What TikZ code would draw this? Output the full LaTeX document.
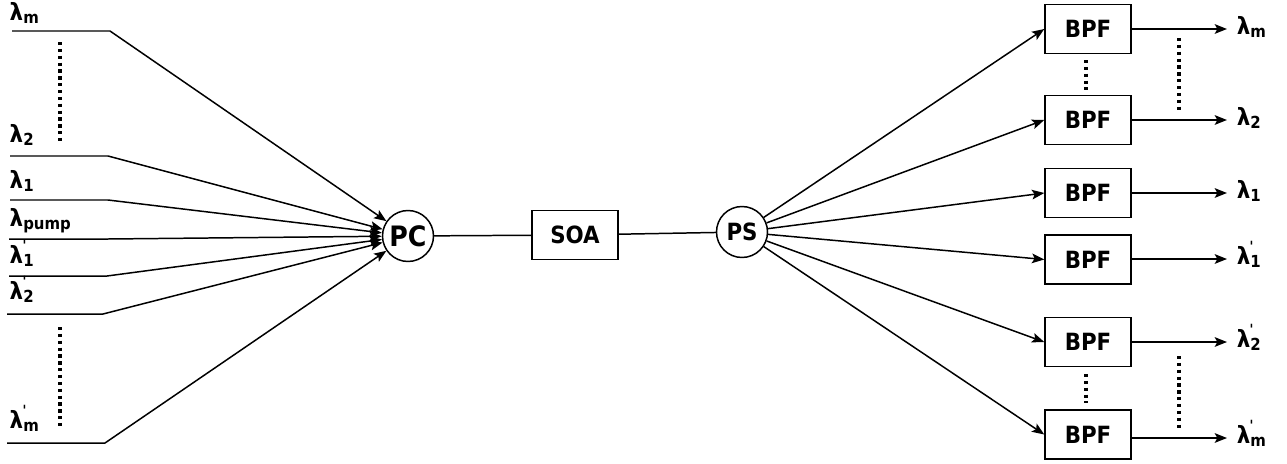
\documentclass[tikz,border=0pt]{standalone}
\usepackage{fontspec}
\setmainfont{DejaVu Sans Condensed}
\usetikzlibrary{arrows.meta}
% wavelength labels: plain, and primed (idler) channels
\newcommand\lsub[1]{λ\textsubscript{#1}}
\newcommand\lpr[1]{λ\rlap{\raisebox{1.0ex}{\fontsize{8}{9}\selectfont\kern-0.4pt\textquotesingle}}\textsubscript{#1}}
\begin{document}
\begin{tikzpicture}[x=0.02cm, y=-0.02cm, line width=0.85pt,
  box/.style={draw, minimum width=1.72cm, minimum height=0.98cm, inner sep=0pt,
    font=\fontsize{13.5}{15}\selectfont\bfseries},
  joint/.style={draw, circle, minimum size=1.02cm, inner sep=0pt,
    font=\fontsize{13.5}{15}\selectfont\bfseries},
  lab/.style={inner sep=0pt, font=\fontsize{13.5}{15}\selectfont\bfseries},
  tip/.style={-{Stealth[length=7pt,width=5.5pt,inset=1.5pt]}},
  dots/.style={line width=1.9pt, dash pattern=on 1.9pt off 2pt}]
\useasboundingbox (0,0) rectangle (1287,463);

% central chain
\node[joint, font=\fontsize{16}{18}\selectfont\bfseries] (pc) at (408,236) {PC};
\node[box] (soa) at (575,235) {SOA};
\node[joint] (ps) at (742,232) {PS};
\draw (pc) -- (soa);
\draw (soa) -- (ps);

% input channels: start, bend, label baseline
\foreach \n/\y/\xs/\xb/\yl/\t in {
  m/31/12/110/20/\lsub{m},
  two/156/10/108/142/\lsub{2},
  one/200/10/108/188/\lsub{1},
  pump/239/9/108/226/\lsub{pump},
  pone/276/9/107/263/\lpr{1},
  ptwo/314/7/103/299/\lpr{2},
  pm/443/7/105/428/\lpr{m}} {
  \coordinate (s\n) at (\xs,\y);
  \coordinate (b\n) at (\xb,\y);
  \node[lab, anchor=base west] (l\n) at (9,\yl) {\t};
  \draw[tip] (s\n) -- (b\n) -- (pc);
}
\draw[dots] (60,42) -- (60,143);
\draw[dots] (60,327) -- (60,427);

% band-pass filters and outputs
\foreach \n/\y/\yo/\t in {
  1/29/29/\lsub{m},
  2/120/120/\lsub{2},
  3/193/193/\lsub{1},
  4/259.5/259/\lpr{1},
  5/342/342/\lpr{2},
  6/434.5/438/\lpr{m}} {
  \node[box] (f\n) at (1088,\y) {BPF};
  \draw[tip] (ps) -- (f\n.west);
  \coordinate (o\n) at (1227,\yo);
  \node[lab, anchor=base west] (r\n) at (1236,\yo+5) {\t};
  \draw[tip] (f\n.east |- o\n) -- (o\n);
}
\draw[dots] (1086,60) -- (1086,90);
\draw[dots] (1179,38) -- (1179,112);
\draw[dots] (1086,374) -- (1086,403);
\draw[dots] (1179,356) -- (1179,431);
\end{tikzpicture}
\end{document}
